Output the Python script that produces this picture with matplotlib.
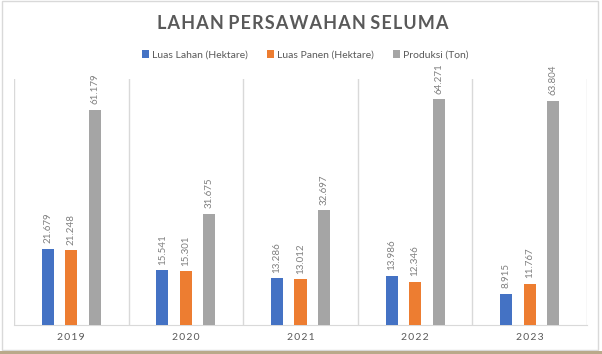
import matplotlib.pyplot as plt
import numpy as np
from matplotlib.patches import Rectangle

plt.rcParams['font.family'] = ['Lato', 'DejaVu Sans']

years = ['2019', '2020', '2021', '2022', '2023']
luas_lahan = [21.679, 15.541, 13.286, 13.986, 8.915]
luas_panen = [21.248, 15.301, 13.012, 12.346, 11.767]
produksi = [61.179, 31.675, 32.697, 64.271, 63.804]

series = [
    ('Luas Lahan (Hektare)', luas_lahan, '#4472c4'),
    ('Luas Panen (Hektare)', luas_panen, '#ed7d31'),
    ('Produksi (Ton)', produksi, '#a5a5a5'),
]

fig = plt.figure(figsize=(6.02, 3.54), dpi=100)
fig.patch.set_facecolor('white')
ax = fig.add_axes([14 / 602, 29 / 354, 573 / 602, 246 / 354])

x = np.arange(len(years))
width = 0.105
step = 0.205
for i, (name, vals, col) in enumerate(series):
    pos = x + (i - 1) * step
    ax.bar(pos, vals, width, color=col, label=name, zorder=3)
    for p, v in zip(pos, vals):
        ax.annotate(f'{v:.3f}', (p, v), xytext=(0, 4), textcoords='offset points',
                    rotation=90, ha='center', va='bottom', fontsize=7, color='#7f7f7f')

ax.set_xlim(-0.5, len(years) - 0.5)
ax.set_ylim(0, 70)
for b in np.arange(-0.5, len(years), 1):
    ax.axvline(b, color='#d9d9d9', lw=1, zorder=1)
ax.set_xticks(x)
hair = '\u200a'
ax.set_xticklabels([(hair * 2).join(y) for y in years], fontsize=7.5, color='#595959')
ax.tick_params(axis='x', length=0, pad=6)
ax.set_yticks([])
for s in ['top', 'left', 'right']:
    ax.spines[s].set_visible(False)
ax.spines['bottom'].set_color('#d9d9d9')
ax.set_facecolor('none')

title = ' '.join(hair.join(w) for w in 'LAHAN PERSAWAHAN SELUMA'.split())
fig.text(0.503, 0.934, title, ha='center', va='center',
         fontsize=13, fontweight='bold', color='#595959')
fig.legend(loc='center', bbox_to_anchor=(0.507, 0.845), ncol=3, frameon=False, fontsize=7.5,
           handlelength=0.7, handleheight=0.7, handletextpad=0.3, columnspacing=1.8,
           labelcolor='#595959')

# light border and bottom strip of the screenshot
fig.add_artist(Rectangle((0.003, 0.012), 0.991, 0.985, transform=fig.transFigure,
                         fill=False, edgecolor='#d9d9d9', lw=1))
fig.add_artist(Rectangle((0, 0), 1, 0.008, transform=fig.transFigure,
                         facecolor='#b9a98a', edgecolor='none'))

fig.savefig('out.png', dpi=100)
